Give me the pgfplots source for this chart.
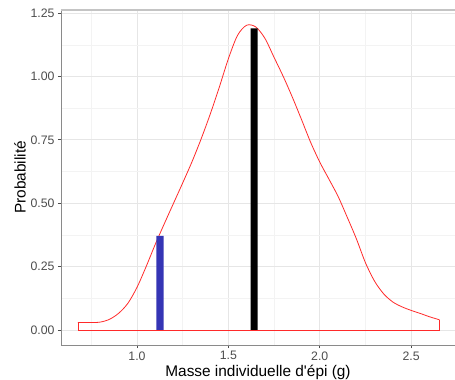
\documentclass[border=0pt]{standalone}
\usepackage{pgfplots}
\pgfplotsset{compat=1.18}
\usepackage{fontspec}
\setmainfont{Liberation Sans}
\usepackage{textcomp}
\usetikzlibrary{calc}
\definecolor{tickc}{HTML}{4D4D4D}
\definecolor{axc}{HTML}{8A8A8A}
\definecolor{topc}{HTML}{C4C4C4}
\definecolor{gmaj}{HTML}{E6E6E6}
\definecolor{gmin}{HTML}{F3F3F3}
\definecolor{barblue}{HTML}{3535B5}
\definecolor{cred}{HTML}{FF2A2A}
\begin{document}
\begin{tikzpicture}
\begin{axis}[
  scale only axis,
  width=394pt, height=335pt,
  xmin=0.584, xmax=2.74,
  ymin=-0.0595, ymax=1.262,
  axis lines*=left,
  axis line style={-, color=axc, line width=0.9pt},
  xtick={1.0,1.5,2.0,2.5},
  ytick={0,0.25,0.5,0.75,1.0,1.25},
  minor xtick={0.75,1.25,1.75,2.25},
  minor ytick={0.125,0.375,0.625,0.875,1.125},
  grid=both,
  major grid style={color=gmaj, line width=0.6pt},
  minor grid style={color=gmin, line width=0.45pt},
  tick align=outside,
  major tick length=3pt,
  minor tick length=0pt,
  tick style={color=tickc, line width=0.6pt},
  xticklabel style={/pgf/number format/.cd, fixed, fixed zerofill, precision=1},
  yticklabel style={/pgf/number format/.cd, fixed, fixed zerofill, precision=2},
  /pgf/number format/assume math mode=true,
  ticklabel style={font=\fontsize{12.3}{14}\selectfont, color=tickc},
  xlabel={Masse individuelle d\textquotesingle épi (g)},
  ylabel={Probabilité},
  label style={font=\fontsize{15.4}{18}\selectfont, color=black},
  xlabel style={yshift=2pt},
  ylabel style={yshift=-2pt},
  clip=false,
]
\coordinate (sw) at (rel axis cs:0,0);
\coordinate (ne) at (rel axis cs:1,1);
\draw[topc, line width=1.3pt] (rel axis cs:0,1) -- (rel axis cs:1,1);
% density curve
\addplot[cred, line width=0.8pt, smooth, tension=0.5, no marks] coordinates {
(0.677,0.029) (0.70,0.029) (0.75,0.029) (0.80,0.031) (0.85,0.042) (0.90,0.066)
(0.95,0.105) (1.00,0.168) (1.05,0.25) (1.10,0.338) (1.15,0.42) (1.20,0.50)
(1.25,0.58) (1.30,0.662) (1.35,0.752) (1.40,0.85) (1.45,0.957) (1.50,1.07)
(1.55,1.162) (1.60,1.202) (1.65,1.195) (1.70,1.15) (1.75,1.075) (1.80,1.0)
(1.85,0.918) (1.90,0.83) (1.95,0.74) (2.00,0.662) (2.05,0.595) (2.10,0.527)
(2.15,0.445) (2.20,0.36) (2.25,0.265) (2.30,0.192) (2.35,0.142) (2.40,0.11)
(2.45,0.091) (2.50,0.077) (2.55,0.065) (2.60,0.052) (2.655,0.04)
};
\addplot[cred, line width=0.8pt, sharp plot, no marks] coordinates {
(0.677,0.029) (0.677,0) (2.655,0) (2.655,0.04)
};
% bars
\addplot[fill=barblue, draw=none] coordinates {
(1.106,0) (1.146,0) (1.146,0.371) (1.106,0.371) (1.106,0)
};
\addplot[fill=black, draw=none] coordinates {
(1.622,0) (1.660,0) (1.660,1.19) (1.622,1.19) (1.622,0)
};
\end{axis}
\pgfresetboundingbox
\path ($(sw)+(-61pt,-35pt)$) rectangle ($(ne)+(0pt,10pt)$);
\end{tikzpicture}
\end{document}
